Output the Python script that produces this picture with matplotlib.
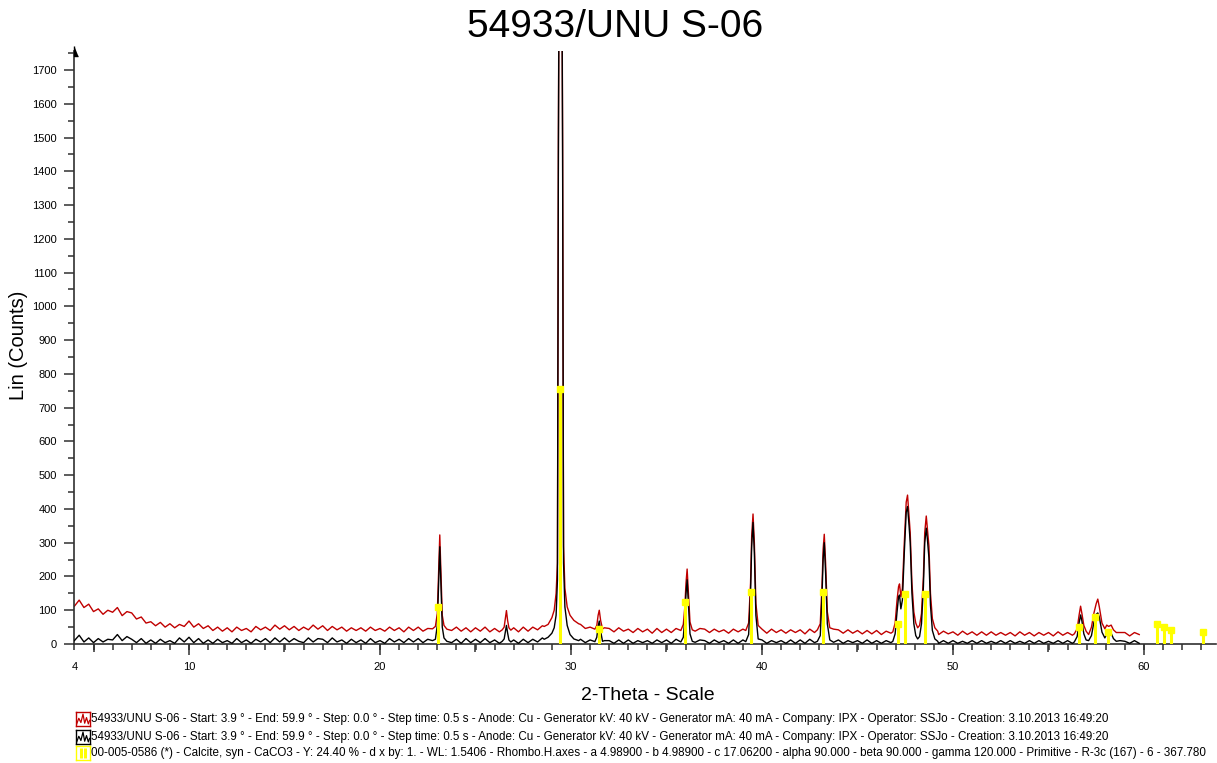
import numpy as np
import matplotlib
matplotlib.use('Agg')
import matplotlib.pyplot as plt

plt.rcParams['font.family'] = ['Liberation Sans', 'DejaVu Sans']

grid_x = np.arange(4.0, 60.0, 0.25)

bg_red = [
    112, 130, 108, 118,  96, 104, 88, 100,  94, 108, 84, 96,  92, 74, 80, 62,
    66, 54, 64, 50,  60, 48, 58, 52,  68, 50, 60, 46,  54, 40, 50, 38,
    48, 36, 50, 40,  46, 36, 52, 42,  50, 40, 56, 44,  54, 42, 52, 40,
    50, 42, 56, 44,  54, 40, 52, 42,  50, 38, 48, 40,  48, 38, 50, 40,
    46, 38, 50, 40,  48, 36, 50, 40,  50, 38, 46, 52,  45, 42, 50, 40,
    50, 38, 48, 36,  48, 38, 50, 36,  46, 36, 48, 40,  48, 36, 50, 38,
    50, 42, 54, 58,  70, 90, 80, 70,  62, 55, 58, 46,  50, 40, 47, 48,
    46, 36, 48, 38,  44, 34, 46, 36,  44, 32, 46, 34,  44, 34, 46, 38,
    40, 43, 38, 46,  44, 34, 44, 36,  42, 32, 44, 36,  44, 36, 42, 39,
    44, 32, 44, 34,  42, 32, 42, 34,  42, 30, 44, 34,  38, 40, 42, 44,
    42, 32, 42, 32,  40, 30, 40, 30,  40, 28, 38, 32,  35, 35, 35, 35,
    35, 35, 35, 35,  40, 28, 38, 30,  36, 26, 38, 28,  36, 26, 36, 26,
    36, 26, 34, 26,  34, 24, 36, 26,  34, 24, 34, 26,  34, 24, 36, 26,
    34, 26, 30, 30,  30, 30, 30, 30,  30, 36, 26, 34,  34, 24, 34, 28,
]

bg_black = [
    10, 26, 6, 18,  4, 16, 6, 14,  12, 28, 10, 22,  14, 4, 16, 2,
    12, 2, 14, 4,  10, 2, 18, 6,  20, 4, 16, 2,  12, 2, 14, 4,
    10, 2, 16, 4,  12, 2, 14, 6,  16, 4, 18, 6,  18, 6, 16, 8,
    4, 18, 6, 16,  14, 4, 18, 6,  12, 2, 14, 4,  12, 2, 16, 4,
    10, 2, 16, 6,  14, 4, 16, 6,  16, 4, 14, 20,  9, 12, 12, 4,
    14, 2, 16, 4,  14, 4, 16, 4,  12, 2, 7, 11,  12, 2, 14, 4,
    14, 6, 18, 24,  30, 30, 30, 30,  18, 12, 14, 4,  12, 2, 9, 10,
    10, 2, 12, 2,  12, 2, 10, 4,  10, 2, 12, 4,  12, 2, 14, 8,
    6, 9, 5, 12,  10, 2, 12, 4,  10, 2, 12, 2,  12, 4, 6, 8,
    12, 2, 10, 4,  10, 2, 12, 2,  12, 2, 14, 4,  10, 6, 9, 5,
    12, 2, 10, 4,  10, 2, 12, 2,  10, 2, 10, 4,  8, 8, 8, 8,
    8, 8, 8, 8,  10, 2, 10, 2,  10, 2, 8, 2,  10, 2, 10, 2,
    8, 2, 10, 2,  10, 2, 8, 2,  10, 2, 10, 2,  8, 2, 10, 2,
    10, 2, 6, 6,  6, 6, 6, 6,  6, 10, 2, 10,  8, 2, 10, 2,
]

# peak regions: 2theta vertices with red (raw) and black counts
peak_x = [
    [22.75, 22.9, 23.0, 23.06, 23.13, 23.2, 23.26, 23.35, 23.5],
    [26.4, 26.5, 26.56, 26.62, 26.68, 26.75, 26.85],
    [28.6, 28.8, 29.0, 29.12, 29.22, 29.29, 29.34, 29.45, 29.56, 29.61, 29.68, 29.8, 29.95, 30.15, 30.4],
    [31.25, 31.35, 31.42, 31.48, 31.55, 31.65],
    [35.75, 35.88, 35.96, 36.02, 36.08, 36.15, 36.23, 36.35],
    [39.15, 39.3, 39.4, 39.46, 39.53, 39.6, 39.68, 39.8],
    [42.9, 43.05, 43.14, 43.2, 43.26, 43.33, 43.42, 43.55],
    [46.85, 46.97, 47.07, 47.15, 47.2, 47.27, 47.35, 47.45, 47.55, 47.62, 47.7, 47.76, 47.85, 47.95,
     48.05, 48.15, 48.25, 48.35, 48.45, 48.52, 48.6, 48.66, 48.74, 48.82, 48.92, 49.05, 49.2],
    [56.35, 56.5, 56.6, 56.68, 56.75, 56.85, 56.97, 57.1, 57.25, 57.38, 57.5, 57.58, 57.66, 57.8,
     57.95, 58.05, 58.15, 58.28, 58.4, 58.55],
]
peak_red = [
    [45, 52, 90, 200, 323, 190, 85, 55, 44],
    [42, 50, 75, 99, 70, 48, 41],
    [52, 58, 78, 100, 150, 240, 1500, 3200, 1500, 290, 165, 110, 85, 70, 60],
    [44, 55, 85, 100, 70, 45],
    [40, 58, 110, 180, 222, 150, 65, 42],
    [40, 62, 180, 320, 385, 300, 120, 55],
    [42, 60, 170, 280, 325, 240, 95, 48],
    [36, 62, 130, 170, 178, 140, 165, 300, 420, 441, 380, 330, 180, 95,
     62, 48, 55, 90, 200, 330, 379, 340, 290, 150, 75, 48, 38],
    [30, 45, 85, 112, 90, 55, 38, 28, 50, 92, 120, 133, 110, 62,
     45, 56, 52, 56, 42, 34],
]
peak_black = [
    [10, 14, 55, 165, 288, 160, 50, 18, 8],
    [8, 15, 35, 55, 33, 12, 6],
    [14, 20, 32, 48, 85, 190, 1450, 3150, 1450, 240, 110, 55, 28, 15, 10],
    [7, 20, 52, 68, 38, 8],
    [6, 20, 78, 148, 190, 118, 30, 8],
    [7, 28, 150, 290, 360, 270, 85, 15],
    [8, 25, 140, 250, 300, 210, 60, 12],
    [8, 30, 95, 140, 145, 104, 130, 270, 390, 407, 350, 300, 150, 60,
     25, 15, 22, 60, 170, 300, 343, 310, 255, 115, 40, 15, 8],
    [6, 22, 62, 86, 68, 30, 12, 10, 25, 65, 88, 92, 80, 35,
     18, 30, 28, 32, 16, 8],
]

# calcite reference pattern (00-005-0586)
ref_2theta = [23.06, 29.41, 31.44, 35.97, 39.42, 43.17, 47.13, 47.51, 48.52,
              56.58, 57.43, 58.10, 60.69, 61.03, 61.42, 63.08]
ref_counts = [110, 755, 44, 124, 154, 154, 58, 148, 148, 50, 80, 36, 59, 50, 41, 36]

title = '54933/UNU S-06'
legend_texts = [
    '54933/UNU S-06 - Start: 3.9 \u00b0 - End: 59.9 \u00b0 - Step: 0.0 \u00b0 - Step time: 0.5 s - Anode: Cu - '
    'Generator kV: 40 kV - Generator mA: 40 mA - Company: IPX - Operator: SSJo - Creation: 3.10.2013 16:49:20',
    '54933/UNU S-06 - Start: 3.9 \u00b0 - End: 59.9 \u00b0 - Step: 0.0 \u00b0 - Step time: 0.5 s - Anode: Cu - '
    'Generator kV: 40 kV - Generator mA: 40 mA - Company: IPX - Operator: SSJo - Creation: 3.10.2013 16:49:20',
    '00-005-0586 (*) - Calcite, syn - CaCO3 - Y: 24.40 % - d x by: 1. - WL: 1.5406 - Rhombo.H.axes - '
    'a 4.98900 - b 4.98900 - c 17.06200 - alpha 90.000 - beta 90.000 - gamma 120.000 - Primitive - R-3c (167) - 6 - 367.780',
]

RED = '#c00000'
YELLOW = '#ffff00'
AXC = '#303030'


def build_series(bg, px_list, py_list):
    bg = np.asarray(bg, float)
    keep = np.ones(len(grid_x), bool)
    for px in px_list:
        keep &= ~((grid_x >= px[0]) & (grid_x <= px[-1]))
    x = np.concatenate([grid_x[keep]] + [np.asarray(p, float) for p in px_list])
    y = np.concatenate([bg[keep]] + [np.asarray(p, float) for p in py_list])
    order = np.argsort(x)
    return x[order], y[order]


assert len(bg_red) == len(grid_x) and len(bg_black) == len(grid_x)
red_x, red_y = build_series(bg_red, peak_x, peak_red)
blk_x, blk_y = build_series(bg_black, peak_x, peak_black)

W, H = 1217, 763
fig = plt.figure(figsize=(W / 100, H / 100), dpi=100)
x0, x1 = 74.4, 1216.0
y0, y1 = 644.0, 51.4
ax = fig.add_axes([x0 / W, 1 - y0 / H, (x1 - x0) / W, (y0 - y1) / H])
ax.set_xlim(4, 4 + (x1 - x0) / 19.1)
ax.set_ylim(0, 1755)

ax.plot(red_x, red_y, color=RED, lw=1.0, zorder=2)
ax.plot(blk_x, blk_y, color='black', lw=1.0, zorder=3)
ax.vlines(ref_2theta, 0, ref_counts, color=YELLOW, lw=2.2, zorder=4)
ax.plot(ref_2theta, ref_counts, 's', color=YELLOW, ms=5, zorder=5)

for s in ['top', 'right']:
    ax.spines[s].set_visible(False)
for s in ['left', 'bottom']:
    ax.spines[s].set_color(AXC)
    ax.spines[s].set_linewidth(1.2)

ax.set_yticks(np.arange(0, 1701, 100))
ax.set_yticks(np.arange(50, 1751, 100), minor=True)
ax.tick_params(axis='y', which='major', length=7.5, width=1.1, color=AXC, labelsize=8, pad=5)
ax.tick_params(axis='y', which='minor', length=4.5, width=1.1, color=AXC)

ax.xaxis.remove_overlapping_locs = False
ax.set_xticks([4, 10, 20, 30, 40, 50, 60])
ax.set_xticks(np.arange(4, 64, 1), minor=True)
ax.tick_params(axis='x', which='major', length=0, labelsize=8, pad=13)
ax.tick_params(axis='x', which='minor', length=4.5, width=1.1, color=AXC)

sec10 = ax.secondary_xaxis('bottom')
sec10.set_xticks([10, 20, 30, 40, 50, 60])
sec10.tick_params(length=8, width=1.1, color=AXC, labelbottom=False)
sec10.spines['bottom'].set_visible(False)
sec5 = ax.secondary_xaxis('bottom')
sec5.set_xticks([5, 15, 25, 35, 45, 55])
sec5.tick_params(length=6, width=1.1, color=AXC, labelbottom=False)
sec5.spines['bottom'].set_visible(False)

# arrow head at the top of the y axis
ax.plot([0], [1], transform=ax.transAxes, clip_on=False, color='black',
        marker=[(0, 1), (0, -1), (0.9, -1)], ms=7, zorder=6)

fig.text(615.5 / W, 1 - 27 / H, title, fontsize=28, ha='center', va='center')
fig.text(19 / W, 1 - 345 / H, 'Lin (Counts)', fontsize=14.5, rotation=90, ha='center', va='center')
fig.text(648 / W, 1 - 695 / H, '2-Theta - Scale', fontsize=14, ha='center', va='center')

# legend rows with little icons
rows_y = [719, 737, 753]
icon_colors = [RED, 'black', YELLOW]
for i, (ty, txt) in enumerate(zip(rows_y, legend_texts)):
    fig.text(91 / W, 1 - ty / H, txt, fontsize=8.35, ha='left', va='center')
    iax = fig.add_axes([76 / W, 1 - (ty + 7) / H, 14 / W, 14 / H])
    iax.set_xlim(0, 1)
    iax.set_ylim(0, 1)
    iax.set_xticks([])
    iax.set_yticks([])
    for s in iax.spines.values():
        s.set_color(icon_colors[i])
        s.set_linewidth(1.0)
    if i < 2:
        iax.plot([0.05, 0.2, 0.35, 0.5, 0.62, 0.75, 0.88, 0.97],
                 [0.15, 0.55, 0.25, 0.85, 0.2, 0.6, 0.15, 0.4], color=icon_colors[i], lw=0.9)
    else:
        iax.vlines([0.35, 0.65], 0.15, 0.85, color=YELLOW, lw=2.2)

fig.savefig('out.png', dpi=100)
